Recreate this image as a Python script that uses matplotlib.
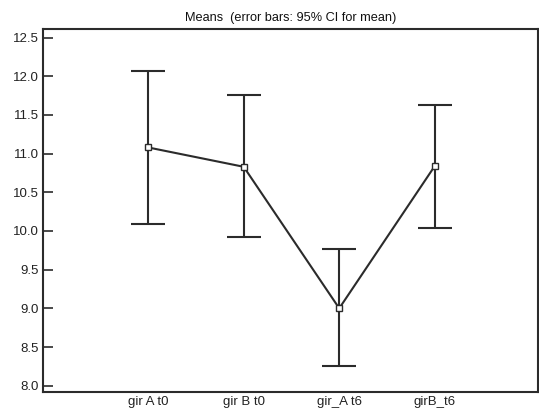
import numpy as np
import matplotlib
matplotlib.use("Agg")
import matplotlib.pyplot as plt

# DATA
groups = ["gir A t0", "gir B t0", "gir_A t6", "girB_t6"]
means  = [11.08, 10.83, 9.00, 10.84]
ci_lo  = [10.09, 9.92, 8.25, 10.04]
ci_hi  = [12.07, 11.76, 9.77, 11.63]
yticks = [8.0, 8.5, 9.0, 9.5, 10.0, 10.5, 11.0, 11.5, 12.0, 12.5]

plt.rcParams['font.family'] = ['Liberation Sans', 'DejaVu Sans']

x = np.arange(1, len(groups) + 1)
m = np.array(means)
err = [m - np.array(ci_lo), np.array(ci_hi) - m]

fig = plt.figure(figsize=(5.39, 4.16), dpi=100)
ax = fig.add_axes([0.080, 0.058, 0.918, 0.872])

ink = "#2b2b2b"
ax.errorbar(x, m, yerr=err, fmt="none", ecolor=ink, elinewidth=1.5,
            capsize=12, capthick=1.5, zorder=2)
ax.plot(x, m, "-", color=ink, lw=1.5, zorder=3)
ax.plot(x, m, "s", ms=4.5, mfc="white", mec=ink, mew=1.0, zorder=4)

ax.set_xlim(-0.1, 5.08)
ax.set_ylim(7.92, 12.61)
ax.set_yticks(yticks)
ax.set_yticklabels([f"{v:.1f}" for v in yticks], fontsize=9.5, color="#222222")
ax.set_xticks(x)
ax.set_xticklabels(groups, fontsize=9.5, color="#222222")
ax.tick_params(axis="y", direction="in", length=7, width=1.2, color=ink, pad=3)
ax.tick_params(axis="x", length=0, pad=3)
for s in ax.spines.values():
    s.set_linewidth(1.5)
    s.set_color(ink)

ax.set_title("Means  (error bars: 95% CI for mean)", fontsize=9.2,
             color="#111111", pad=6)

fig.savefig("out.png", dpi=100)
